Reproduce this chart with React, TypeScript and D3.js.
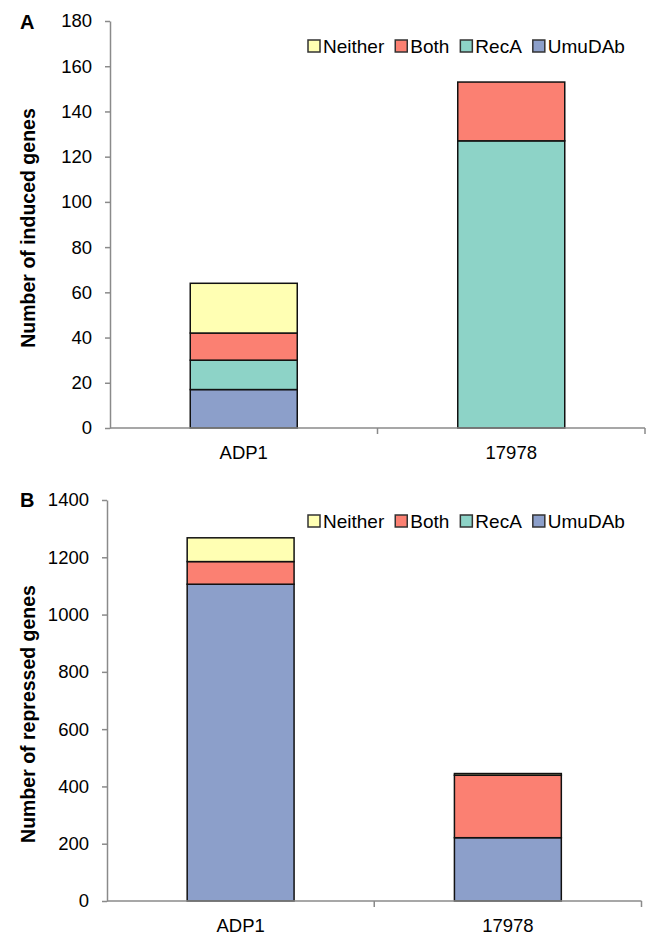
import React, { useEffect, useRef } from 'react'
import * as d3 from 'd3'

// categories and series (stack order bottom -> top)
const categories = ['ADP1', '17978']
const seriesNames = ['UmuDAb', 'RecA', 'Both', 'Neither']
const legendOrder = ['Neither', 'Both', 'RecA', 'UmuDAb']
const colors = ['#8c9fca', '#8dd3c7', '#fb8072', '#ffffb3']

// panel A: induced genes
const inducedUmuDAb = [17, 0]
const inducedRecA = [13, 127]
const inducedBoth = [12, 26]
const inducedNeither = [22, 0]
const inducedTicks = [0, 20, 40, 60, 80, 100, 120, 140, 160, 180]

// panel B: repressed genes
const repressedUmuDAb = [1106, 221]
const repressedRecA = [0, 0]
const repressedBoth = [79, 218]
const repressedNeither = [83, 6]
const repressedTicks = [0, 200, 400, 600, 800, 1000, 1200, 1400]

const FONT = '"Liberation Sans", Arial, sans-serif'

function buildRows (umu, rec, both, neither) {
  return categories.map((c, i) => ({
    category: c,
    UmuDAb: umu[i],
    RecA: rec[i],
    Both: both[i],
    Neither: neither[i]
  }))
}

function drawPanel (svg, opts) {
  const { rows, ticks, yMax, left, right, top, bottom, letter, letterY, yLabel, yLabelY, legendY } = opts
  const g = svg.append('g')

  const x = d3.scaleBand()
    .domain(categories)
    .range([left, right])
    .paddingInner(0.6)
    .paddingOuter(0.3)
  const xAxisScale = d3.scaleBand().domain(categories).range([left, right])
  const y = d3.scaleLinear().domain([0, yMax]).range([bottom, top])

  // bars
  const stacked = d3.stack().keys(seriesNames)(rows)
  stacked.forEach((layer, si) => {
    g.append('g')
      .selectAll('rect')
      .data(layer.filter(d => d[1] - d[0] > 0))
      .enter()
      .append('rect')
      .attr('x', d => x(d.data.category))
      .attr('width', x.bandwidth())
      .attr('y', d => y(d[1]))
      .attr('height', d => y(d[0]) - y(d[1]))
      .attr('fill', colors[si])
      .attr('stroke', '#111')
      .attr('stroke-width', 1.5)
  })

  // y axis
  const yAxis = g.append('g')
    .attr('transform', 'translate(' + left + ',0)')
    .call(d3.axisLeft(y).tickValues(ticks).tickFormat(d3.format('d'))
      .tickSize(5).tickPadding(13).tickSizeOuter(0))
  yAxis.select('.domain').attr('stroke', '#8a8a8a').attr('stroke-width', 1.5)
  yAxis.selectAll('.tick line').attr('stroke', '#8a8a8a').attr('stroke-width', 1.5)
  yAxis.selectAll('.tick text')
    .attr('font-family', FONT)
    .attr('font-size', 18.5)
    .attr('fill', '#000')

  // x axis line with boundary ticks
  g.append('line')
    .attr('x1', left).attr('x2', right)
    .attr('y1', bottom).attr('y2', bottom)
    .attr('stroke', '#8a8a8a').attr('stroke-width', 1.5)
  const bounds = categories.map(c => xAxisScale(c) + xAxisScale.bandwidth())
  g.append('g').selectAll('line')
    .data(bounds)
    .enter()
    .append('line')
    .attr('x1', d => d).attr('x2', d => d)
    .attr('y1', bottom).attr('y2', bottom + 6)
    .attr('stroke', '#8a8a8a').attr('stroke-width', 1.5)
  g.append('g').selectAll('text')
    .data(categories)
    .enter()
    .append('text')
    .attr('x', d => xAxisScale(d) + xAxisScale.bandwidth() / 2)
    .attr('y', bottom + 31)
    .attr('text-anchor', 'middle')
    .attr('font-family', FONT)
    .attr('font-size', 18.5)
    .text(d => d)

  // panel letter
  g.append('text')
    .attr('x', 20)
    .attr('y', letterY)
    .attr('font-family', FONT)
    .attr('font-weight', 'bold')
    .attr('font-size', 20)
    .text(letter)

  // y axis title
  g.append('text')
    .attr('transform', 'translate(28,' + yLabelY + ') rotate(-90)')
    .attr('text-anchor', 'middle')
    .attr('dy', '0.35em')
    .attr('font-family', FONT)
    .attr('font-weight', 'bold')
    .attr('font-size', 19.5)
    .text(yLabel)

  // legend
  let lx = 308
  legendOrder.forEach(name => {
    const si = seriesNames.indexOf(name)
    g.append('rect')
      .attr('x', lx).attr('y', legendY - 6)
      .attr('width', 12).attr('height', 12)
      .attr('fill', colors[si])
      .attr('stroke', '#333')
      .attr('stroke-width', 1.5)
    const t = g.append('text')
      .attr('x', lx + 15)
      .attr('y', legendY + 7)
      .attr('font-family', FONT)
      .attr('font-size', 19)
      .text(name)
    lx = lx + 15 + t.node().getComputedTextLength() + 11
  })
}

export default function App () {
  const ref = useRef(null)

  useEffect(() => {
    const svg = d3.select(ref.current)
    svg.selectAll('*').remove()

    drawPanel(svg, {
      rows: buildRows(inducedUmuDAb, inducedRecA, inducedBoth, inducedNeither),
      ticks: inducedTicks,
      yMax: 180,
      left: 110,
      right: 645,
      top: 21,
      bottom: 428,
      letter: 'A',
      letterY: 28.5,
      yLabel: 'Number of induced genes',
      yLabelY: 228,
      legendY: 46
    })

    drawPanel(svg, {
      rows: buildRows(repressedUmuDAb, repressedRecA, repressedBoth, repressedNeither),
      ticks: repressedTicks,
      yMax: 1400,
      left: 107,
      right: 641.5,
      top: 500,
      bottom: 901,
      letter: 'B',
      letterY: 507,
      yLabel: 'Number of repressed genes',
      yLabelY: 714,
      legendY: 521
    })
  }, [])

  return (
    <svg
      ref={ref}
      width={650}
      height={936}
      style={{ position: 'absolute', left: 0, top: 0, background: '#fff' }}
    />
  )
}
